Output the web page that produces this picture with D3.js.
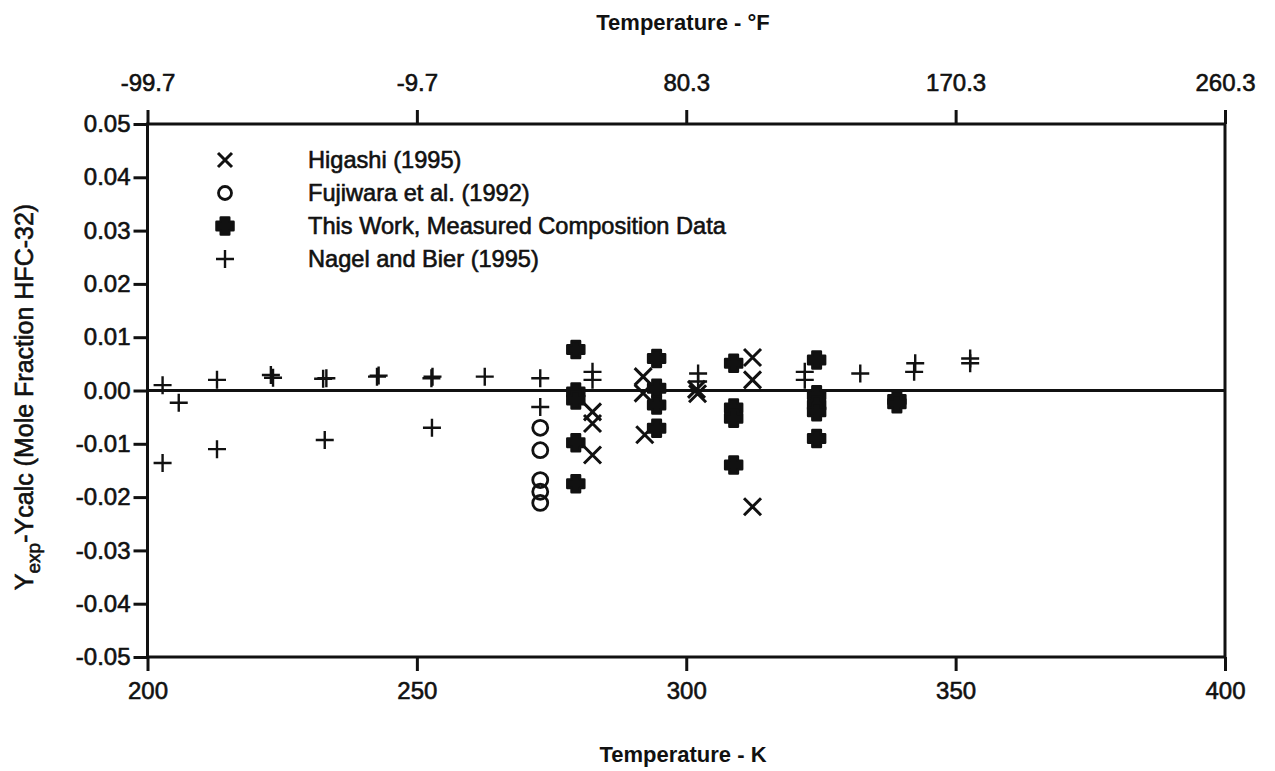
<!DOCTYPE html>
<html>
<head>
<meta charset="utf-8">
<script src="https://cdn.jsdelivr.net/npm/d3@7"></script>
<style>
  html, body { margin: 0; padding: 0; background: #fff; }
  svg { display: block; }
  text { font-family: "Liberation Sans", Arial, Helvetica, sans-serif; fill: #111; }
</style>
</head>
<body>
<svg id="chart" width="1275" height="771"></svg>
<script>
// ---------------- DATA ----------------
const kTicks = [200, 250, 300, 350, 400];
const fTickLabels = ["-99.7", "-9.7", "80.3", "170.3", "260.3"];
const yTicks = [0.05, 0.04, 0.03, 0.02, 0.01, 0.00, -0.01, -0.02, -0.03, -0.04, -0.05];

const seriesNames = ["Higashi (1995)", "Fujiwara et al. (1992)", "This Work, Measured Composition Data", "Nagel and Bier (1995)"];

// Higashi (1995) : [T (K), deviation]
const higashi = [
  [282.6, -0.0040], [282.6, -0.0062], [282.6, -0.0121],
  [292.0, 0.0026], [292.0, -0.0005], [292.3, -0.0083],
  [301.9, 0.0002], [302.1, -0.0006],
  [312.3, 0.0062], [312.3, 0.0020], [312.3, -0.0218]
];
// Fujiwara et al. (1992)
const fujiwara = [
  [272.9, -0.0070], [272.9, -0.0112], [272.9, -0.0168], [272.9, -0.0190], [272.9, -0.0211]
];
// This Work, Measured Composition Data
const thisWork = [
  [279.5, 0.0077], [279.5, -0.0003], [279.5, -0.0018], [279.5, -0.0098], [279.5, -0.0175],
  [294.5, 0.0060], [294.5, 0.0004], [294.5, -0.0027], [294.5, -0.0071],
  [308.8, 0.0051], [308.8, -0.0033], [308.8, -0.0052], [308.8, -0.0140],
  [324.2, 0.0057], [324.2, -0.0008], [324.2, -0.0027], [324.2, -0.0040], [324.2, -0.0090],
  [339.1, -0.0017], [339.1, -0.0025]
];
// Nagel and Bier (1995)
const nagel = [
  [202.8, 0.0010], [205.8, -0.0023], [202.8, -0.0136],
  [212.9, 0.0020], [212.9, -0.0110],
  [222.9, 0.0029], [223.3, 0.0024],
  [232.6, 0.0022], [233.2, 0.0023], [232.9, -0.0093],
  [242.6, 0.0026], [242.9, 0.0028],
  [252.7, 0.0023], [252.9, 0.0026], [252.8, -0.0070],
  [262.6, 0.0026],
  [272.9, 0.0023], [272.9, -0.0031],
  [282.6, 0.0035], [282.6, 0.0020],
  [302.2, 0.0032], [302.2, 0.0017],
  [322.0, 0.0035], [322.0, 0.0020],
  [332.3, 0.0032],
  [342.5, 0.0051], [342.3, 0.0035],
  [352.7, 0.0060], [352.7, 0.0051]
];

// ---------------- LAYOUT ----------------
const svg = d3.select("#chart");
const L = 147.5, R = 1225, T = 124, B = 657;
const x = d3.scaleLinear().domain([200, 400]).range([L, R]);
const y = d3.scaleLinear().domain([-0.05, 0.05]).range([B, T]);

const ink = "#111";
const textStroke = 0.6;

// custom symbol types
const symX = { draw(ctx, s) { const r = s; ctx.moveTo(-r, -r); ctx.lineTo(r, r); ctx.moveTo(r, -r); ctx.lineTo(-r, r); } };
const symPlus = { draw(ctx, s) { const r = s; ctx.moveTo(-r, 0); ctx.lineTo(r, 0); ctx.moveTo(0, -r); ctx.lineTo(0, r); } };
const symCross = { draw(ctx, s) {
  const a = s, b = s * 0.5;
  ctx.moveTo(-b, -a); ctx.lineTo(b, -a); ctx.lineTo(b, -b); ctx.lineTo(a, -b); ctx.lineTo(a, b);
  ctx.lineTo(b, b); ctx.lineTo(b, a); ctx.lineTo(-b, a); ctx.lineTo(-b, b); ctx.lineTo(-a, b);
  ctx.lineTo(-a, -b); ctx.lineTo(-b, -b); ctx.closePath();
} };
const symCircle = { draw(ctx, s) { ctx.moveTo(s, 0); ctx.arc(0, 0, s, 0, 2 * Math.PI); } };

const styles = [
  { type: symX, size: 8.5, fill: "none", stroke: ink, sw: 3 },
  { type: symCircle, size: 7.5, fill: "none", stroke: ink, sw: 2.8 },
  { type: symCross, size: 8.5, fill: ink, stroke: ink, sw: 2.5 },
  { type: symPlus, size: 9, fill: "none", stroke: ink, sw: 2.4 }
];
const allSeries = [higashi, fujiwara, thisWork, nagel];

// ---------------- AXES ----------------
function styleAxis(g) {
  g.select(".domain").remove();
  g.selectAll(".tick line").attr("stroke", ink).attr("stroke-width", 3);
  g.selectAll(".tick text")
    .style("font-size", "24px")
    .attr("fill", ink).attr("stroke", ink).attr("stroke-width", textStroke);
}
const fmtY = v => d3.format(".2f")(v).replace("\u2212", "-");

svg.append("g").attr("transform", `translate(0,${B})`)
  .call(d3.axisBottom(x).tickValues(kTicks).tickSize(14).tickPadding(11).tickFormat(d3.format("d")))
  .call(styleAxis);

svg.append("g").attr("transform", `translate(0,${T})`)
  .call(d3.axisTop(x).tickValues(kTicks).tickSize(14).tickPadding(19).tickFormat((d, i) => fTickLabels[i]))
  .call(styleAxis);

svg.append("g").attr("transform", `translate(${L},0)`)
  .call(d3.axisLeft(y).tickValues(yTicks).tickSize(14).tickPadding(3).tickFormat(fmtY))
  .call(styleAxis);

// frame
svg.append("rect")
  .attr("x", L).attr("y", T).attr("width", R - L).attr("height", B - T)
  .attr("fill", "none").attr("stroke", ink).attr("stroke-width", 3);

// zero line
svg.append("line")
  .attr("x1", x(200)).attr("x2", x(400)).attr("y1", y(0)).attr("y2", y(0))
  .attr("stroke", ink).attr("stroke-width", 3);

// ---------------- TITLES ----------------
svg.append("text").attr("x", 683).attr("y", 30).attr("text-anchor", "middle")
  .style("font-size", "22px").style("font-weight", "bold").text("Temperature - °F");
svg.append("text").attr("x", 683).attr("y", 762).attr("text-anchor", "middle")
  .style("font-size", "22px").style("font-weight", "bold").text("Temperature - K");

const yl = svg.append("text")
  .attr("transform", "translate(33,397) rotate(-90)")
  .attr("text-anchor", "middle")
  .style("font-size", "25px")
  .attr("stroke", ink).attr("stroke-width", textStroke);
yl.append("tspan").text("Y");
yl.append("tspan").attr("dy", 7).style("font-size", "19px").text("exp");
yl.append("tspan").attr("dy", -7).text("-Ycalc (Mole Fraction HFC-32)");

// ---------------- POINTS ----------------
allSeries.forEach((data, i) => {
  const st = styles[i];
  svg.append("g").selectAll("path").data(data).join("path")
    .attr("transform", d => `translate(${x(d[0])},${y(d[1])})`)
    .attr("d", d3.symbol().type(st.type).size(st.size))
    .attr("fill", st.fill).attr("stroke", st.stroke).attr("stroke-width", st.sw)
    .attr("stroke-linejoin", "round");
});

// ---------------- LEGEND ----------------
const legRows = [160, 193, 226, 259];
const leg = svg.append("g");
seriesNames.forEach((name, i) => {
  const st = styles[i];
  leg.append("path")
    .attr("transform", `translate(225,${legRows[i]})`)
    .attr("d", d3.symbol().type(st.type).size(i === 0 ? 7 : i === 1 ? 6.5 : st.size))
    .attr("fill", st.fill).attr("stroke", st.stroke).attr("stroke-width", st.sw)
    .attr("stroke-linejoin", "round");
  leg.append("text").attr("x", 308).attr("y", legRows[i]).attr("dy", "0.36em")
    .style("font-size", "23.6px")
    .attr("stroke", ink).attr("stroke-width", textStroke)
    .text(name);
});
</script>
</body>
</html>
